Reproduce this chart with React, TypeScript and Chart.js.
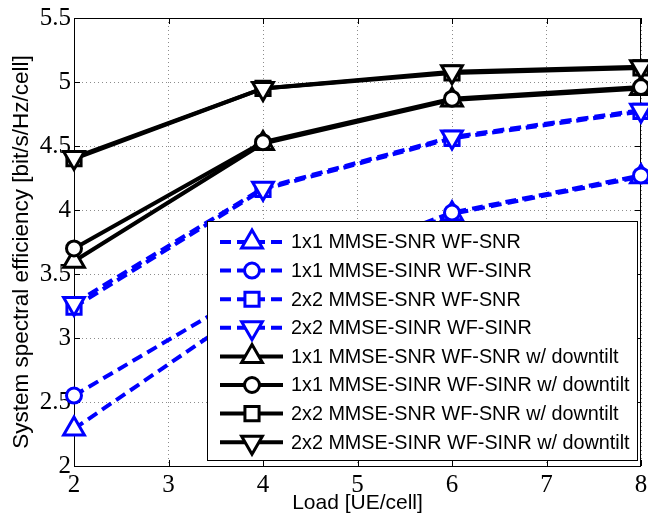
import React, { useEffect, useRef } from "react";
import { Chart, registerables } from "chart.js";
import { drawPoint } from "chart.js/helpers";

Chart.register(...registerables);

// ---------- data ----------
const loads = [2, 4, 6, 8];
const yMin = 2;
const yMax = 5.5;
const xMin = 2;
const xMax = 8;
const xStep = 1;
const yStep = 0.5;

const seriesLabels = [
  "1x1 MMSE-SNR WF-SNR",
  "1x1 MMSE-SINR WF-SINR",
  "2x2 MMSE-SNR WF-SNR",
  "2x2 MMSE-SINR WF-SINR",
  "1x1 MMSE-SNR WF-SNR w/ downtilt",
  "1x1 MMSE-SINR WF-SINR w/ downtilt",
  "2x2 MMSE-SNR WF-SNR w/ downtilt",
  "2x2 MMSE-SINR WF-SINR w/ downtilt",
];

const snr1x1 = [2.29, 3.3, 3.97, 4.26];
const sinr1x1 = [2.55, 3.42, 3.98, 4.27];
const snr2x2 = [3.24, 4.16, 4.56, 4.77];
const sinr2x2 = [3.27, 4.17, 4.57, 4.78];
const snr1x1Tilt = [3.6, 4.52, 4.86, 4.95];
const sinr1x1Tilt = [3.7, 4.53, 4.87, 4.96];
const snr2x2Tilt = [4.4, 4.95, 5.07, 5.11];
const sinr2x2Tilt = [4.41, 4.95, 5.08, 5.12];

const seriesValues = [snr1x1, sinr1x1, snr2x2, sinr2x2, snr1x1Tilt, sinr1x1Tilt, snr2x2Tilt, sinr2x2Tilt];

// ---------- styles ----------
const BLUE = "#0000ff";
const BLACK = "#000000";
const markerDefs = [
  { style: "triangle", rotation: 0, radius: 12 },
  { style: "circle", rotation: 0, radius: 7.5 },
  { style: "rect", rotation: 0, radius: 10 },
  { style: "triangle", rotation: 180, radius: 12 },
];
const DASH = [11, 6];
const SANS = "'Liberation Sans', Arial, Helvetica, sans-serif";
const SERIF = "'Liberation Serif', 'Times New Roman', serif";

function styleFor(i: number) {
  const m = markerDefs[i % 4];
  const blue = i < 4;
  return {
    color: blue ? BLUE : BLACK,
    dash: blue ? DASH : [],
    pointStyle: m.style,
    rotation: m.rotation,
    radius: m.radius,
  };
}

function fmt(v: number) {
  return String(Math.round(v * 100) / 100);
}

const framePlugin = {
  id: "frame",
  beforeDatasetsDraw(chart: any) {
    const { ctx, chartArea: a, scales } = chart;
    ctx.save();
    ctx.strokeStyle = "#000";
    ctx.lineWidth = 1;
    ctx.setLineDash([]);
    ctx.strokeRect(a.left + 0.5, a.top + 0.5, a.right - a.left - 1, a.bottom - a.top);
    const tl = 6;
    ctx.beginPath();
    scales.x.ticks.forEach((t: any) => {
      const px = Math.round(scales.x.getPixelForValue(t.value)) + 0.5;
      ctx.moveTo(px, a.bottom);
      ctx.lineTo(px, a.bottom - tl);
      ctx.moveTo(px, a.top);
      ctx.lineTo(px, a.top + tl);
    });
    scales.y.ticks.forEach((t: any) => {
      const py = Math.round(scales.y.getPixelForValue(t.value)) + 0.5;
      ctx.moveTo(a.left, py);
      ctx.lineTo(a.left + tl, py);
      ctx.moveTo(a.right, py);
      ctx.lineTo(a.right - tl, py);
    });
    ctx.stroke();

    // tick labels
    ctx.fillStyle = "#000";
    ctx.font = `25px ${SERIF}`;
    ctx.textBaseline = "middle";
    ctx.textAlign = "center";
    scales.x.ticks.forEach((t: any) => {
      ctx.fillText(fmt(t.value), scales.x.getPixelForValue(t.value), a.bottom + 19);
    });
    ctx.textAlign = "right";
    scales.y.ticks.forEach((t: any) => {
      ctx.fillText(fmt(t.value), a.left - 3, scales.y.getPixelForValue(t.value));
    });
    ctx.restore();
  },
  afterDraw(chart: any) {
    const { ctx, chartArea: a } = chart;
    ctx.save();
    // axis titles
    ctx.fillStyle = "#000";
    ctx.font = `21px ${SANS}`;
    ctx.textAlign = "center";
    ctx.textBaseline = "middle";
    ctx.fillText("Load [UE/cell]", (a.left + a.right) / 2, a.bottom + 37);
    ctx.save();
    ctx.font = `22.5px ${SANS}`;
    ctx.translate(a.left - 52, (a.top + a.bottom) / 2 + 10);
    ctx.rotate(-Math.PI / 2);
    ctx.fillText("System spectral efficiency [bit/s/Hz/cell]", 0, 0);
    ctx.restore();

    // legend
    const bx = a.left + 133;
    const by = a.top + 203;
    const bw = 430;
    const bh = 239;
    ctx.fillStyle = "#fff";
    ctx.fillRect(bx, by, bw, bh);
    ctx.strokeStyle = "#000";
    ctx.lineWidth = 1;
    ctx.setLineDash([]);
    ctx.strokeRect(bx + 0.5, by + 0.5, bw, bh);
    const rowH = 28.6;
    seriesLabels.forEach((label, i) => {
      const s = styleFor(i);
      const cy = by + 21 + i * rowH;
      const x0 = bx + 13;
      const x1 = bx + 76;
      const mx = bx + 45;
      ctx.strokeStyle = s.color;
      ctx.lineWidth = 4;
      ctx.setLineDash(s.dash);
      ctx.beginPath();
      ctx.moveTo(x0, cy);
      ctx.lineTo(x1, cy);
      ctx.stroke();
      ctx.setLineDash([]);
      ctx.fillStyle = "#fff";
      ctx.strokeStyle = s.color;
      ctx.lineWidth = 3;
      drawPoint(ctx, { pointStyle: s.pointStyle, rotation: s.rotation, radius: s.radius, borderWidth: 3 }, mx, cy);
      ctx.fillStyle = "#000";
      ctx.font = `19.8px ${SANS}`;
      ctx.textAlign = "left";
      ctx.textBaseline = "middle";
      ctx.fillText(label, bx + 84, cy + 1);
    });
    ctx.restore();
  },
};

export default function App() {
  const ref = useRef<HTMLCanvasElement>(null);
  useEffect(() => {
    if (!ref.current) return;
    const datasets = seriesValues.map((vals, i) => {
      const s = styleFor(i);
      return {
        label: seriesLabels[i],
        data: loads.map((x, k) => ({ x, y: vals[k] })),
        borderColor: s.color,
        backgroundColor: "#fff",
        borderWidth: 4,
        borderDash: s.dash,
        pointStyle: s.pointStyle,
        pointRotation: s.rotation,
        pointRadius: s.radius,
        pointBorderWidth: 3,
        pointBorderColor: s.color,
        pointBackgroundColor: "#fff",
        tension: 0,
        clip: false,
        order: seriesLabels.length - i,
      };
    });
    const chart = new Chart(ref.current, {
      type: "line",
      data: { datasets } as any,
      options: {
        animation: false,
        responsive: false,
        devicePixelRatio: 1,
        layout: { autoPadding: false, padding: { left: 0, top: 18, right: 7, bottom: 0 } },
        plugins: { legend: { display: false }, tooltip: { enabled: false } },
        scales: {
          x: {
            type: "linear",
            min: xMin,
            max: xMax,
            afterFit: (sc: any) => {
              sc.height = 51;
            },
            ticks: { stepSize: xStep, display: false },
            grid: { color: "rgba(0,0,0,0.45)", lineWidth: 1, drawTicks: false },
            border: { display: false, dash: [1, 3] },
          },
          y: {
            type: "linear",
            min: yMin,
            max: yMax,
            afterFit: (sc: any) => {
              sc.width = 74;
            },
            ticks: { stepSize: yStep, display: false },
            grid: { color: "rgba(0,0,0,0.45)", lineWidth: 1, drawTicks: false },
            border: { display: false, dash: [1, 3] },
          },
        },
      },
      plugins: [framePlugin],
    });
    return () => chart.destroy();
  }, []);
  return (
    <div style={{ position: "fixed", left: 0, top: 0, width: 648, height: 517, background: "#fff" }}>
      <canvas ref={ref} width={648} height={517} />
    </div>
  );
}
